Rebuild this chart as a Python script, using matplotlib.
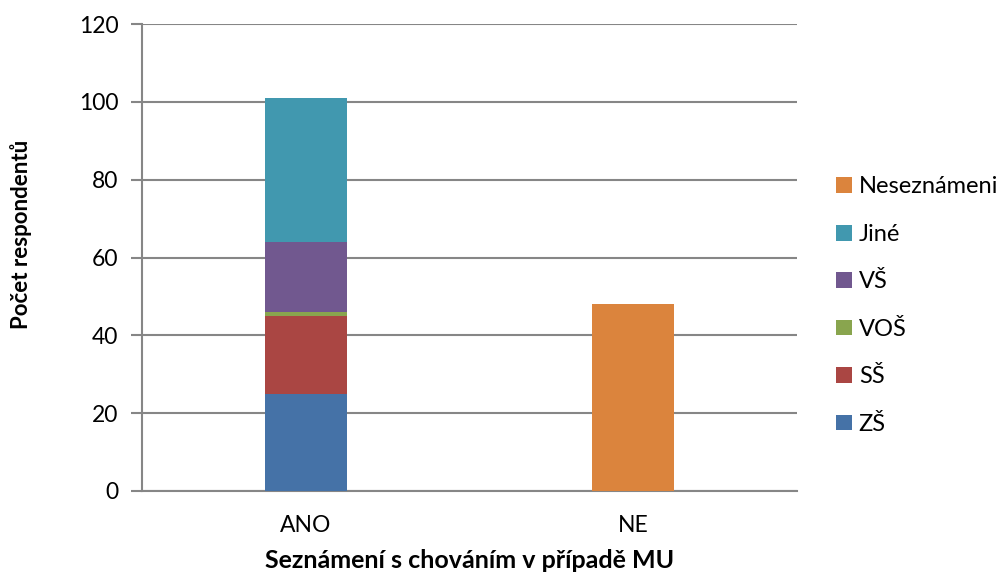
import matplotlib.pyplot as plt
from matplotlib.patches import Patch

plt.rcParams['font.family'] = ['Lato', 'DejaVu Sans']

# respondents per answer, split by education
categories = ['ANO', 'NE']
zs = [25, 0]
ss = [20, 0]
vos = [1, 0]
vs = [18, 0]
jine = [37, 0]
neseznameni = [0, 48]

series = [
    ('ZŠ', zs, '#4572A7'),
    ('SŠ', ss, '#AA4643'),
    ('VOŠ', vos, '#89A54E'),
    ('VŠ', vs, '#71588F'),
    ('Jiné', jine, '#4198AF'),
    ('Neseznámeni', neseznameni, '#DB843D'),
]

grid_col = '#868686'

fig = plt.figure(figsize=(10.06, 5.76), dpi=100)
ax = fig.add_axes([0.1412, 0.1476, 0.6508, 0.8107])

x = list(range(len(categories)))
bottom = [0] * len(categories)
for name, vals, col in series:
    ax.bar(x, vals, width=0.25, bottom=bottom, color=col, zorder=3)
    bottom = [b + v for b, v in zip(bottom, vals)]

ax.set_xlim(-0.5, 1.5)
ax.set_ylim(0, 120)
ax.set_yticks(range(0, 121, 20))
ax.set_xticks(x)
ax.set_xticklabels(categories)

ax.yaxis.grid(True, color=grid_col, linewidth=1.5, zorder=0)
ax.set_axisbelow(True)
for side in ('top', 'right'):
    ax.spines[side].set_visible(False)
for side in ('left', 'bottom'):
    ax.spines[side].set_color(grid_col)
    ax.spines[side].set_linewidth(1.5)
ax.tick_params(axis='y', length=8, width=1.5, color=grid_col, labelsize=16.5, pad=9)
ax.tick_params(axis='x', length=0, labelsize=16.5, pad=17)

ax.set_ylabel('Počet respondentů', fontsize=16, fontweight='bold')
ax.yaxis.set_label_coords(-0.168, 0.55)
ax.set_xlabel('Seznámení s chováním v případě MU', fontsize=18, fontweight='bold', labelpad=10)

handles = [Patch(facecolor=col, label=name) for name, _, col in reversed(series)]
fig.legend(handles=handles, loc='upper left', bbox_to_anchor=(0.822, 0.71),
           frameon=False, fontsize=17, handlelength=0.65, handleheight=0.65,
           handletextpad=0.3, labelspacing=1.12, borderaxespad=0)

fig.savefig('out.png', dpi=100)
